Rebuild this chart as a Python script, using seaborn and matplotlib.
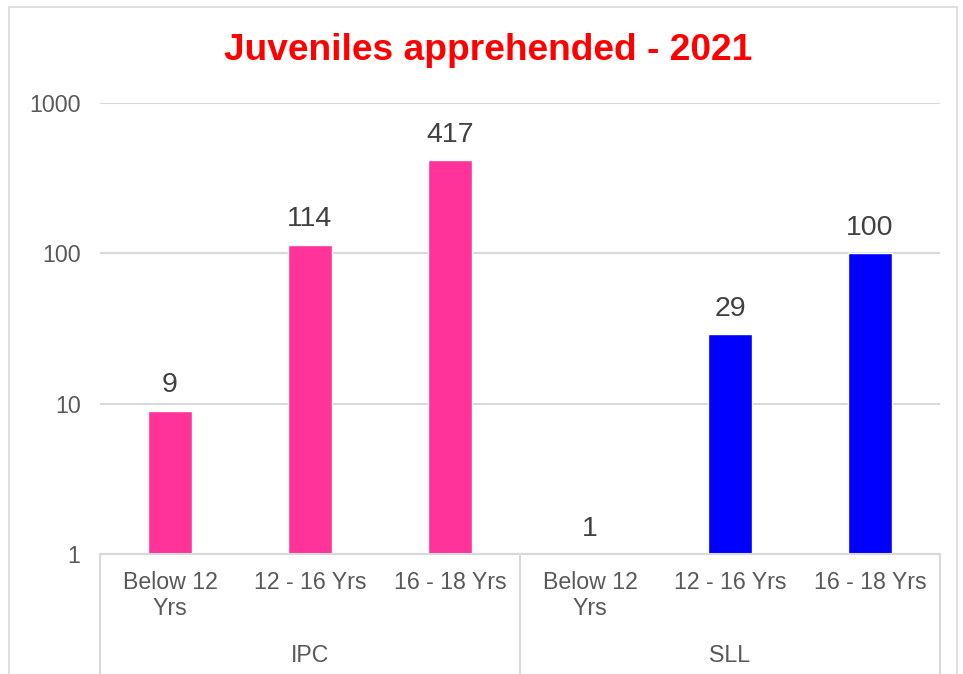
import matplotlib
matplotlib.use("Agg")
import matplotlib.pyplot as plt
import matplotlib.transforms as mtransforms
from matplotlib.patches import Rectangle
import seaborn as sns
import pandas as pd

# data
groups = ["IPC", "IPC", "IPC", "SLL", "SLL", "SLL"]
age_bands = ["Below 12\nYrs", "12 - 16 Yrs", "16 - 18 Yrs",
             "Below 12\nYrs", "12 - 16 Yrs", "16 - 18 Yrs"]
counts = [9, 114, 417, 1, 29, 100]
group_names = ["IPC", "SLL"]
colors = {"IPC": "#FF3399", "SLL": "#0000FF"}

sns.set_style("white")
plt.rcParams["font.family"] = ["Liberation Sans", "DejaVu Sans"]

df = pd.DataFrame({
    "slot": [f"{g}|{a}" for g, a in zip(groups, age_bands)],
    "group": groups,
    "count": counts,
})

fig = plt.figure(figsize=(9.63, 6.74), dpi=100)
ax = fig.add_axes([0.1038, 0.178, 0.8723, 0.669])

sns.barplot(data=df, x="slot", y="count", hue="group", palette=colors,
            dodge=False, width=0.31, legend=False, ax=ax, saturation=1)

ax.set_yscale("log")
ax.set_ylim(1, 1000)
ax.set_xlim(-0.5, len(counts) - 0.5)
ax.set_yticks([1, 10, 100, 1000])
ax.set_yticklabels(["1", "10", "100", "1000"])
ax.minorticks_off()
ax.yaxis.grid(True, color="#D9D9D9", linewidth=1.5)
ax.set_axisbelow(True)
for s in ["top", "right", "left"]:
    ax.spines[s].set_visible(False)
ax.spines["bottom"].set_color("#D9D9D9")
ax.spines["bottom"].set_linewidth(1.5)

ax.set_xticks(range(len(age_bands)))
ax.set_xticklabels(age_bands, linespacing=1.2)
ax.tick_params(axis="x", length=0, pad=12, labelsize=16.7, labelcolor="#595959")
ax.tick_params(axis="y", length=0, pad=14, labelsize=16.7, labelcolor="#595959")
ax.set_xlabel("")
ax.set_ylabel("")

# data labels
for i, v in enumerate(counts):
    ax.annotate(str(v), (i, v), xytext=(0, 9), textcoords="offset points",
                ha="center", va="bottom", fontsize=20.5, color="#404040")

# group labels and separators below the axis
trans = mtransforms.blended_transform_factory(ax.transData, ax.transAxes)
for xb in [-0.5, 2.5, 5.5]:
    ax.plot([xb, xb], [0, -0.3], transform=trans, color="#D9D9D9",
            linewidth=1.5, clip_on=False)
for k, g in enumerate(group_names):
    ax.text(1 + 3 * k, -0.224, g, transform=trans, ha="center", va="center",
            fontsize=16.7, color="#595959")

fig.text(0.507, 0.925, "Juveniles apprehended - 2021", ha="center", va="center",
         fontsize=26.7, fontweight="bold", color="#FF0000")

# chart border
fig.patches.append(Rectangle((0.009, -0.05), 0.985, 1.04, transform=fig.transFigure,
                             fill=False, edgecolor="#D9D9D9", linewidth=1.2))

fig.savefig("out.png", dpi=100)
